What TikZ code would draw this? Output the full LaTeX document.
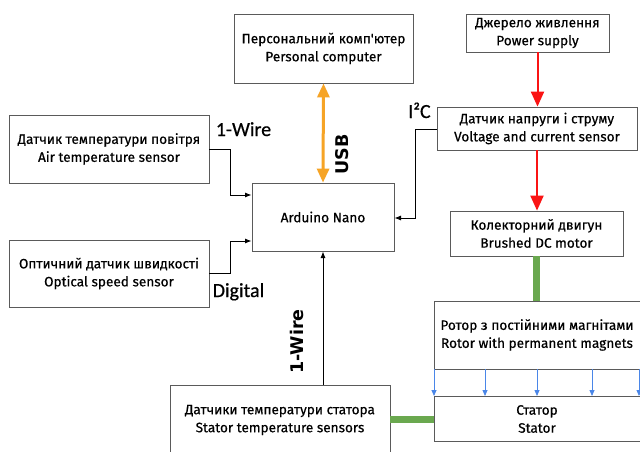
\documentclass[tikz,border=0pt]{standalone}
\usepackage{fontspec}
\setmainfont{Carlito}[FakeBold=0.6]
\newfontfamily\boxfont{Fira Sans}[FakeBold=0.5]
\newfontfamily\busfont{DejaVu Sans}
\usepackage{tikz}
\usetikzlibrary{arrows.meta,positioning,calc}
\definecolor{usborange}{RGB}{246,164,38}
\definecolor{pwrred}{RGB}{250,20,20}
\definecolor{shaftgreen}{RGB}{106,168,79}
\definecolor{fluxblue}{RGB}{74,134,232}
\definecolor{boxgray}{RGB}{90,90,90}
\tikzset{
  blk/.style={draw=boxgray, thick, fill=white, align=center, inner sep=2pt,
    font=\boxfont\fontsize{13.6}{18}\selectfont},
  sig/.style={-Latex, thick, black},
  usbarr/.style={{Triangle[length=14pt,width=12pt]}-{Triangle[length=14pt,width=12pt]}, line width=3pt, usborange},
  pwrarr/.style={-{Triangle[length=15pt,width=13pt]}, line width=2pt, pwrred},
  shaft/.style={line width=7pt, shaftgreen},
  flux/.style={-{Triangle[length=6pt,width=5pt]}, thick, fluxblue},
  buslbl/.style={anchor=base, inner sep=0pt, font=\fontsize{20}{22}\selectfont},
  vbuslbl/.style={rotate=90, inner sep=0pt, font=\busfont\bfseries\fontsize{17.5}{20}\selectfont}
}
\begin{document}
\begin{tikzpicture}[x=1pt,y=1pt]
  \useasboundingbox (0,0) rectangle (640,-452);
  \clip (0,0) rectangle (640,-452);
  \fill[white] (0,0) rectangle (640,-452);

  % blocks
  \node[blk, minimum width=179pt, minimum height=69pt] (pc) at (323.5,-48.5)
    {Персональний комп'ютер\\Personal computer};
  \node[blk, minimum width=143pt, minimum height=38pt] (psu) at (537.5,-33)
    {Джерело живлення\\Power supply};
  \node[blk, minimum width=200pt, minimum height=43pt] (vcs) at (537,-128.5)
    {Датчик напруги і струму\\Voltage and current sensor};
  \node[blk, minimum width=200pt, minimum height=68pt] (air) at (109,-149)
    {Датчик температури повітря\\Air temperature sensor};
  \node[blk, minimum width=142pt, minimum height=68pt] (ard) at (323,-217)
    {Arduino Nano};
  \node[blk, minimum width=200pt, minimum height=67pt] (opt) at (109,-273.5)
    {Оптичний датчик швидкості\\Optical speed sensor};
  \node[blk, minimum width=173pt, minimum height=45pt] (dcm) at (536.5,-233.5)
    {Колекторний двигун\\Brushed DC motor};
  \node[blk, minimum width=206pt, minimum height=68pt] (rot) at (537,-335)
    {Ротор з постійними магнітами\\Rotor with permanent magnets};
  \node[blk, minimum width=206pt, minimum height=45pt] (sta) at (537,-419)
    {Статор\\Stator};
  \node[blk, minimum width=220pt, minimum height=70pt] (sts) at (280,-420)
    {Датчики температури статора\\Stator temperature sensors};

  % signal lines
  \draw[sig] (air.east) -- ++(21,0) |- ($(ard.west)+(0,22)$);
  \draw[sig] (opt.east) -- ++(21,0) |- ($(ard.west)+(0,-24)$);
  \draw[sig] ($(vcs.west)+(0,-0.5)$) -- ++(-21,0) |- ($(ard.east)+(0,-1)$);
  \draw[sig] (sts.north -| ard.south) -- (ard.south);
  \draw[usbarr] (pc.south) -- (ard.north);

  % power and mechanics
  \draw[pwrarr] (psu.south) -- (psu.south |- vcs.north);
  \draw[pwrarr] (vcs.south) -- (vcs.south |- dcm.north);
  \draw[shaft] (dcm.south) -- (dcm.south |- rot.north);
  \draw[shaft] (sts.east |- sta.west) -- (sta.west);
  \foreach \fx in {434,485,537,592,639}
    \draw[flux] (\fx,-369) -- (\fx,-396);

  % bus labels
  \node[buslbl] (lwire) at (243.5,-136) {1-Wire};
  \node[buslbl] (ldig) at (238.5,-297) {Digital};
  \node[buslbl] (li2c) at (419.5,-118) {I²C};
  \node[vbuslbl] (lusb) at (342.5,-154.5) {USB};
  \node[vbuslbl] (lwire2) at (297,-341.5) {1-Wire};
\end{tikzpicture}
\end{document}
